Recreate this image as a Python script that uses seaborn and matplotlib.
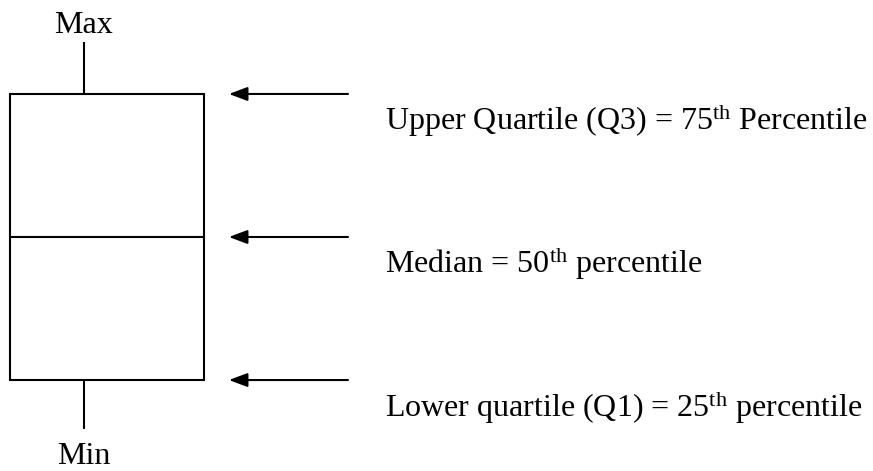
import matplotlib
matplotlib.use("Agg")
import matplotlib.pyplot as plt
import seaborn as sns

# --- data: five-number summary of the schematic box ---
stat_names = ["Min", "Q1", "Median", "Q3", "Max"]
stat_values = [-0.34, 0.0, 1.0, 2.0, 2.36]

# annotation labels pointing at Q3, median and Q1
note_labels = [
    r"Upper Quartile (Q3) = 75$^{\mathrm{th}}$ Percentile",
    r"Median = 50$^{\mathrm{th}}$ percentile",
    r"Lower quartile (Q1) = 25$^{\mathrm{th}}$ percentile",
]
note_levels = [stat_values[3], stat_values[2], stat_values[1]]

# --- style ---
sns.set_style("white")
plt.rcParams["font.family"] = ["Liberation Serif", "DejaVu Serif"]
plt.rcParams["text.color"] = "black"
plt.rcParams["mathtext.fontset"] = "custom"
plt.rcParams["mathtext.rm"] = "Liberation Serif"
plt.rcParams["mathtext.it"] = "Liberation Serif:italic"
FS = 23
LW = 1.5

fig = plt.figure(figsize=(8.73, 4.71), dpi=100)
ax = fig.add_axes([0, 0, 1, 1])

sns.boxplot(y=stat_values, whis=(0, 100), width=0.8, color="white",
            linecolor="black", linewidth=LW, saturation=1,
            whiskerprops={"visible": False}, capprops={"visible": False},
            medianprops={"color": "black", "linewidth": LW},
            ax=ax)

# whiskers sit left of the box centre in the original sketch
whisker_x = -0.095
ax.vlines(whisker_x, stat_values[3], stat_values[4], color="black", lw=LW)
ax.vlines(whisker_x, stat_values[0], stat_values[1], color="black", lw=LW)

ax.text(whisker_x, 2.427, "Max", ha="center", va="baseline", fontsize=FS, color="black")
ax.text(whisker_x, -0.59, "Min", ha="center", va="baseline", fontsize=FS, color="black")

# arrows + labels
for lab, lev in zip(note_labels, note_levels):
    ax.annotate("", xy=(0.503, lev), xytext=(0.994, lev),
                arrowprops=dict(arrowstyle="-|>,head_length=0.8,head_width=0.3",
                                mutation_scale=14, color="black", lw=LW,
                                shrinkA=0, shrinkB=0))
    ax.text(1.146, lev - 0.255, lab, ha="left", va="baseline", fontsize=FS, color="black")

ax.set_xlim(-0.441, 3.159)
ax.set_ylim(-0.636, 2.657)
ax.axis("off")

fig.savefig("out.png", dpi=100, facecolor="white")
